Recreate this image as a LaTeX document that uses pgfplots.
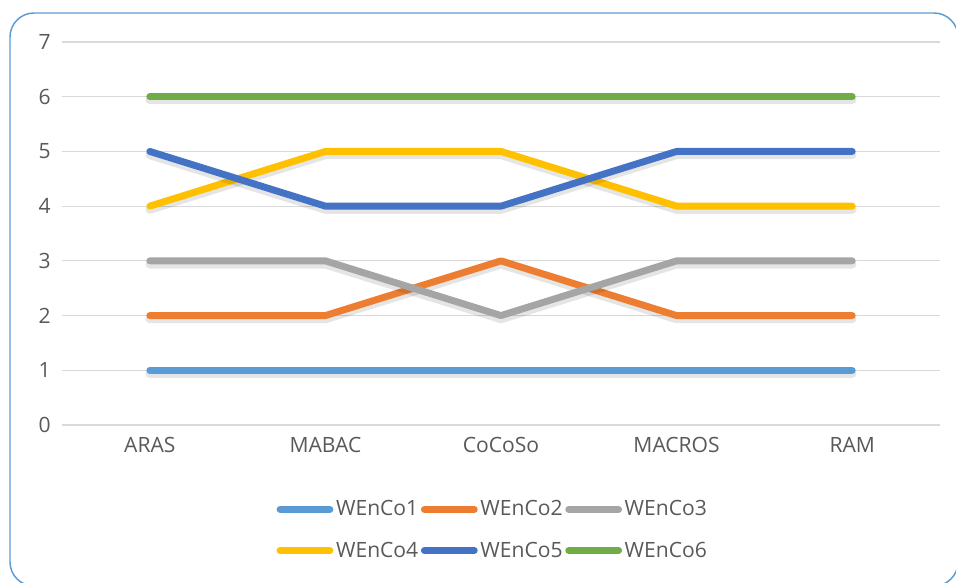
\documentclass[border=0pt]{standalone}
\usepackage{pgfplots}
\pgfplotsset{compat=1.18}
\usepackage{fontspec}
\setmainfont{Open Sans}
\definecolor{s1}{HTML}{5B9BD5}
\definecolor{s2}{HTML}{ED7D31}
\definecolor{s3}{HTML}{A5A5A5}
\definecolor{s4}{HTML}{FFC000}
\definecolor{s5}{HTML}{4472C4}
\definecolor{s6}{HTML}{70AD47}
\definecolor{gridc}{HTML}{D9D9D9}
\definecolor{txt}{HTML}{595959}
\definecolor{frame}{HTML}{5B9BD5}
\begin{document}
\begin{tikzpicture}
\useasboundingbox (0pt,0pt) rectangle (717pt,436.5pt);
\draw[frame, line width=1.1pt, rounded corners=18pt] (7.5pt,-3pt) rectangle (718.5pt,426.75pt);
\begin{axis}[
  at={(46.5pt,117.75pt)}, anchor=south west,
  scale only axis, width=658.5pt, height=287.25pt,
  xmin=-0.5, xmax=4.5, ymin=0, ymax=7,
  xtick={0,1,2,3,4},
  xticklabels={ARAS,MABAC,CoCoSo,MACROS,RAM},
  ytick={0,1,2,3,4,5,6,7},
  /pgf/number format/assume math mode=true,
  tick style={draw=none},
  axis line style={draw=none},
  ymajorgrids, grid style={gridc, line width=0.9pt},
  ticklabel style={font=\fontsize{15.8}{18}\selectfont, text=txt},
  yticklabel style={xshift=-5pt},
  xticklabel style={yshift=-6pt},
  clip=false,
  legend columns=3,
  legend cell align=left,
  legend style={draw=none, fill=none, at={(0.491,-0.19)}, anchor=north,
    font=\fontsize{15.8}{18}\selectfont, text=txt,
    /tikz/every odd column/.append style={column sep=0pt},
    row sep=14pt, inner sep=0pt},
  legend image code/.code={\draw[#1, line width=5.2pt, line cap=round] (2.6pt,0pt) -- (40pt,0pt);},
  every axis plot/.append style={line width=5.2pt, line cap=round, line join=round},
]
\addplot[black, opacity=0.10, line width=6.5pt, yshift=-2.5pt, forget plot] coordinates {(0,1)(1,1)(2,1)(3,1)(4,1)};
\addplot[s1] coordinates {(0,1)(1,1)(2,1)(3,1)(4,1)};
\addlegendentry{WEnCo1}
\addplot[black, opacity=0.10, line width=6.5pt, yshift=-2.5pt, forget plot] coordinates {(0,2)(1,2)(2,3)(3,2)(4,2)};
\addplot[s2] coordinates {(0,2)(1,2)(2,3)(3,2)(4,2)};
\addlegendentry{WEnCo2}
\addplot[black, opacity=0.10, line width=6.5pt, yshift=-2.5pt, forget plot] coordinates {(0,3)(1,3)(2,2)(3,3)(4,3)};
\addplot[s3] coordinates {(0,3)(1,3)(2,2)(3,3)(4,3)};
\addlegendentry{WEnCo3}
\addplot[black, opacity=0.10, line width=6.5pt, yshift=-2.5pt, forget plot] coordinates {(0,4)(1,5)(2,5)(3,4)(4,4)};
\addplot[s4] coordinates {(0,4)(1,5)(2,5)(3,4)(4,4)};
\addlegendentry{WEnCo4}
\addplot[black, opacity=0.10, line width=6.5pt, yshift=-2.5pt, forget plot] coordinates {(0,5)(1,4)(2,4)(3,5)(4,5)};
\addplot[s5] coordinates {(0,5)(1,4)(2,4)(3,5)(4,5)};
\addlegendentry{WEnCo5}
\addplot[black, opacity=0.10, line width=6.5pt, yshift=-2.5pt, forget plot] coordinates {(0,6)(1,6)(2,6)(3,6)(4,6)};
\addplot[s6] coordinates {(0,6)(1,6)(2,6)(3,6)(4,6)};
\addlegendentry{WEnCo6}
\end{axis}
\end{tikzpicture}
\end{document}
